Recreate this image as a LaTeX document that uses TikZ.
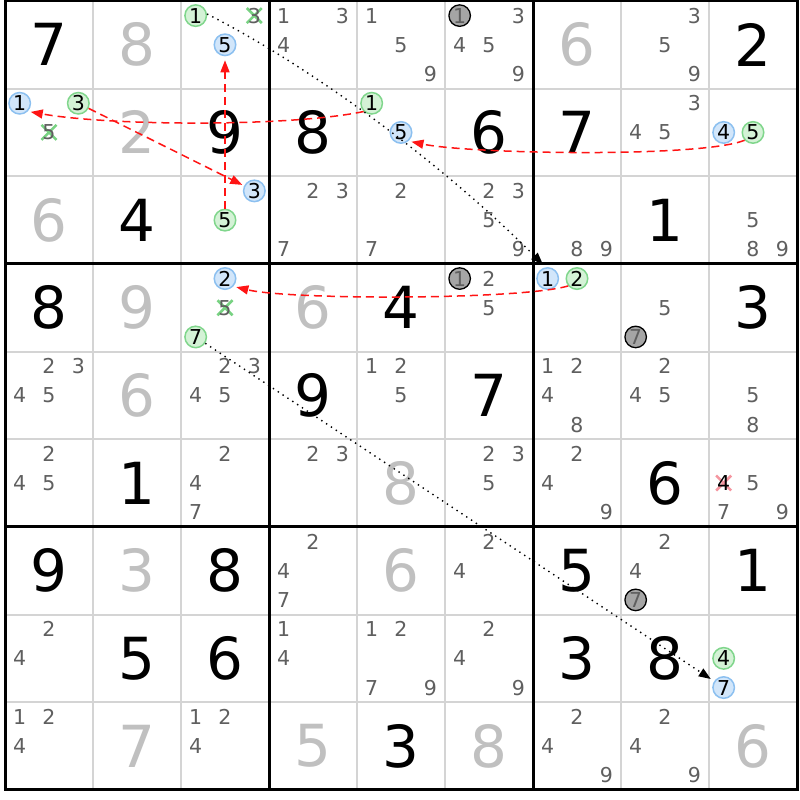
\documentclass[tikz,border=0pt]{standalone}
\usepackage{fontspec}
\setmainfont{DejaVu Sans}
\usetikzlibrary{arrows.meta}
\definecolor{candc}{RGB}{95,95,95}
\definecolor{solvc}{RGB}{192,192,192}
\definecolor{thinc}{RGB}{212,212,212}
\definecolor{gfill}{RGB}{212,242,214}
\definecolor{gline}{RGB}{128,214,140}
\definecolor{bfill}{RGB}{210,230,250}
\definecolor{bline}{RGB}{140,192,240}
\definecolor{kfill}{RGB}{165,165,165}
\definecolor{xgreen}{RGB}{120,210,130}
\definecolor{xred}{RGB}{245,150,160}
\definecolor{arrred}{RGB}{255,20,20}
\newcommand{\setpos}[3]{\pgfmathsetmacro{\px}{5+88*(#2-1)+14.67+29.33*mod(#3-1,3)}\pgfmathsetmacro{\py}{1+87.65*(#1-1)+14.6+29.2*int((#3-1)/3)}}
\newcommand{\cd}[3]{\setpos{#1}{#2}{#3}\node[cand] (k#1#2#3) at (\px,\py) {#3};}
\newcommand{\cds}[3]{\foreach \dd in {#3}{\cd{#1}{#2}{\dd}}}
\newcommand{\gv}[3]{\pgfmathsetmacro{\px}{5+88*(#2-0.5)}\pgfmathsetmacro{\py}{1+87.65*(#1-0.5)}\node[given] (v#1#2) at (\px,\py) {#3};}
\newcommand{\sv}[3]{\pgfmathsetmacro{\px}{5+88*(#2-0.5)}\pgfmathsetmacro{\py}{1+87.65*(#1-0.5)}\node[solved] (v#1#2) at (\px,\py) {#3};}
\newcommand{\cc}[4]{\setpos{#2}{#3}{#4}\node[#1] (#1#2#3#4) at (\px,\py) {#4};}
\newcommand{\xc}[5]{\setpos{#2}{#3}{#4}\draw[xmark,draw=#1] (\px-7.5,\py-7.5) -- (\px+7.5,\py+7.5) (\px-7.5,\py+7.5) -- (\px+7.5,\py-7.5);\node[cand,text=#5] (x#2#3#4) at (\px,\py) {#4};}
\tikzset{
 given/.style={font=\fontsize{58}{62}\selectfont, text=black, inner sep=0pt},
 solved/.style={given, text=solvc},
 cand/.style={font=\fontsize{20.5}{22}\selectfont, text=candc, inner sep=0pt},
 gc/.style={circle, draw=gline, fill=gfill, line width=1.5pt, minimum size=21.5pt, inner sep=0pt, font=\fontsize{20.5}{22}\selectfont, text=black},
 bc/.style={gc, draw=bline, fill=bfill},
 kc/.style={gc, draw=black, fill=kfill, text=candc, line width=1.3pt},
 xmark/.style={line width=2.5pt},
 thinline/.style={draw=thinc, line width=2pt},
 thickline/.style={draw=black, line width=3pt},
 redarr/.style={draw=arrred, line width=1.5pt, dash pattern=on 8pt off 5pt, -{Triangle[length=12pt,width=9pt]}},
 dotarr/.style={draw=black, line width=1.4pt, dash pattern=on 1.4pt off 4.4pt, -{Triangle[length=12pt,width=9pt]}},
}
\begin{document}
\begin{tikzpicture}[x=1pt,y=-1pt]
\useasboundingbox (0,0) rectangle (800,800);
\fill[white] (0,0) rectangle (800,800);
% grid
\foreach \i in {1,2,4,5,7,8} {
  \draw[thinline] (5+88*\i,1) -- (5+88*\i,789.85);
  \draw[thinline] (5,1+87.65*\i) -- (797,1+87.65*\i);
}
\foreach \i in {3,6} {
  \draw[thickline] (5+88*\i,1) -- (5+88*\i,789.85);
  \draw[thickline] (5,1+87.65*\i) -- (797,1+87.65*\i);
}
\draw[thickline] (5,1) rectangle (797,789.85);
% given and solved digits
\gv{1}{1}{7}\sv{1}{2}{8}\sv{1}{7}{6}\gv{1}{9}{2}
\sv{2}{2}{2}\gv{2}{3}{9}\gv{2}{4}{8}\gv{2}{6}{6}\gv{2}{7}{7}
\sv{3}{1}{6}\gv{3}{2}{4}\gv{3}{8}{1}
\gv{4}{1}{8}\sv{4}{2}{9}\sv{4}{4}{6}\gv{4}{5}{4}\gv{4}{9}{3}
\sv{5}{2}{6}\gv{5}{4}{9}\gv{5}{6}{7}
\gv{6}{2}{1}\sv{6}{5}{8}\gv{6}{8}{6}
\gv{7}{1}{9}\sv{7}{2}{3}\gv{7}{3}{8}\sv{7}{5}{6}\gv{7}{7}{5}\gv{7}{9}{1}
\gv{8}{2}{5}\gv{8}{3}{6}\gv{8}{7}{3}\gv{8}{8}{8}
\sv{9}{2}{7}\sv{9}{4}{5}\gv{9}{5}{3}\sv{9}{6}{8}\sv{9}{9}{6}
% plain candidates
\cds{1}{4}{1,3,4}\cds{1}{5}{1,5,9}\cds{1}{6}{3,4,5,9}\cds{1}{8}{3,5,9}
\cds{2}{8}{3,4,5}
\cds{3}{4}{2,3,7}\cds{3}{5}{2,7}\cds{3}{6}{2,3,5,9}\cds{3}{7}{8,9}\cds{3}{9}{5,8,9}
\cds{4}{6}{2,5}\cds{4}{8}{5}
\cds{5}{1}{2,3,4,5}\cds{5}{3}{2,3,4,5}\cds{5}{5}{1,2,5}\cds{5}{7}{1,2,4,8}\cds{5}{8}{2,4,5}\cds{5}{9}{5,8}
\cds{6}{1}{2,4,5}\cds{6}{3}{2,4,7}\cds{6}{4}{2,3}\cds{6}{6}{2,3,5}\cds{6}{7}{2,4,9}\cds{6}{9}{5,7,9}
\cds{7}{4}{2,4,7}\cds{7}{6}{2,4}\cds{7}{8}{2,4}
\cds{8}{1}{2,4}\cds{8}{4}{1,4}\cds{8}{5}{1,2,7,9}\cds{8}{6}{2,4,9}
\cds{9}{1}{1,2,4}\cds{9}{3}{1,2,4}\cds{9}{7}{2,4,9}\cds{9}{8}{2,4,9}
% crossed candidates
\xc{xgreen}{1}{3}{3}{candc}
\xc{xgreen}{2}{1}{5}{candc}
\xc{xgreen}{4}{3}{5}{candc}
\xc{xred}{6}{9}{4}{black}
% circled candidates
\cc{gc}{1}{3}{1}\cc{bc}{1}{3}{5}
\cc{bc}{2}{1}{1}\cc{gc}{2}{1}{3}
\cc{gc}{2}{5}{1}\cc{bc}{2}{5}{5}
\cc{bc}{2}{9}{4}\cc{gc}{2}{9}{5}
\cc{bc}{3}{3}{3}\cc{gc}{3}{3}{5}
\cc{bc}{4}{3}{2}\cc{gc}{4}{3}{7}
\cc{bc}{4}{7}{1}\cc{gc}{4}{7}{2}
\cc{gc}{8}{9}{4}\cc{bc}{8}{9}{7}
\cc{kc}{1}{6}{1}\cc{kc}{4}{6}{1}\cc{kc}{4}{8}{7}\cc{kc}{7}{8}{7}
% connectors
\draw[redarr, shorten >=3pt] (gc251.226) .. controls (290,127) and (110,126) .. (bc211.-45);
\draw[redarr, shorten >=2pt] (gc213) -- (bc333);
\draw[redarr, shorten >=4pt] (gc335) -- (bc135);
\draw[redarr, shorten >=3pt] (gc295.223) .. controls (700,158) and (470,154) .. (bc255.-49);
\draw[redarr, shorten >=3pt] (gc472.220) .. controls (520,300) and (290,300) .. (bc432.-43);
\draw[dotarr, shorten >=4pt] (gc131.8) .. controls (308,65) and (441,162) .. (bc471.100);
\draw[dotarr, shorten >=4pt] (gc437) -- (bc897);
\end{tikzpicture}
\end{document}
